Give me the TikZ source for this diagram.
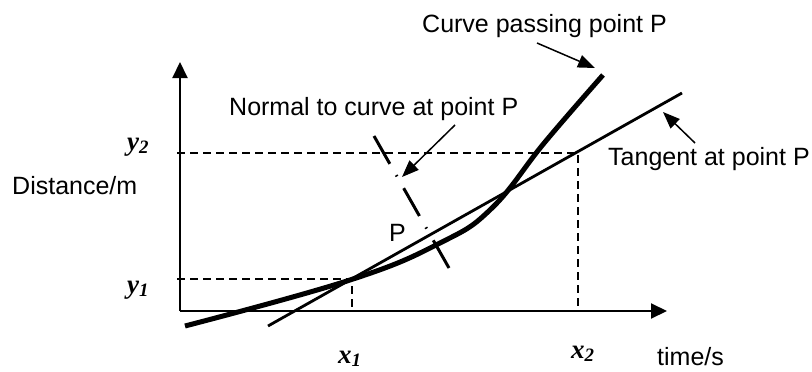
\documentclass[tikz,border=0pt]{standalone}
\usepackage{fontspec}
\setmainfont{Liberation Sans}
\newfontfamily\timesfont{Liberation Serif}
\usetikzlibrary{arrows.meta}
\newcommand{\axlab}[2]{{\timesfont\bfseries\itshape #1\textsubscript{#2}}}
\tikzset{
  axis/.style={line width=2pt, -{Triangle[length=16pt,width=15pt]}},
  guide/.style={line width=1.5pt, dash pattern=on 8pt off 5pt},
  curveln/.style={line width=5pt},
  tangentln/.style={line width=2.8pt},
  normalln/.style={line width=3pt, dash pattern=on 32pt off 13pt on 1.5pt off 13.5pt},
  pointer/.style={line width=1.5pt, -{Triangle[length=17pt,width=13pt]}},
  lbl/.style={font=\fontsize{25}{30}\selectfont, inner sep=0pt, anchor=base west},
  sym/.style={font=\fontsize{27}{30}\selectfont, inner sep=0pt, anchor=base west},
}
\begin{document}
\begin{tikzpicture}[x=1pt,y=-1pt]
\useasboundingbox (0,0) rectangle (812,372);
% axes
\coordinate (O) at (180,311);
\coordinate (ytop) at (180,62);
\coordinate (xend) at (667,311);
\draw[axis] (O) -- (ytop);
\draw[axis] (O) -- (xend);
% guide lines
\coordinate (Q1) at (352,279);
\coordinate (Q2) at (578,153);
\draw[guide] (177,279) -- (Q1) -- (352,311);
\draw[guide] (177,153) -- (Q2) -- (578,311);
% curve, tangent and normal
\draw[curveln] plot[smooth, tension=0.7] coordinates {(185,326) (350,280) (440,243) (492,208) (545,142) (603,75)};
\coordinate (tA) at (268,326);
\coordinate (tB) at (682,93);
\draw[tangentln] (tA) -- (tB);
\coordinate (nA) at (374,136);
\coordinate (nB) at (449,268);
\draw[normalln] (nA) -- (nB);
% labels
\node[lbl] (curvetxt) at (422,32) {Curve passing point P};
\node[lbl] (normaltxt) at (229,115) {Normal to curve at point P};
\node[lbl] (tangenttxt) at (608,165) {Tangent at point P};
\node[lbl] (ylabel) at (12,194) {Distance/m};
\node[lbl] (xlabel) at (657,365) {time/s};
\node[lbl] (ptxt) at (389,241) {P};
\node[sym] (x1) at (338,363) {\axlab{x}{1}};
\node[sym] (x2) at (571,358) {\axlab{x}{2}};
\node[sym] (y1) at (127,293) {\axlab{y}{1}};
\node[sym] (y2) at (127,150) {\axlab{y}{2}};
% pointers
\coordinate (cS) at (537,43);
\coordinate (cT) at (595,68);
\coordinate (nS) at (455,125);
\coordinate (nT) at (402,177);
\coordinate (tS) at (695,143);
\coordinate (tT) at (663,112);
\draw[pointer] (cS) -- (cT);
\draw[pointer] (nS) -- (nT);
\draw[pointer] (tS) -- (tT);
\end{tikzpicture}
\end{document}
